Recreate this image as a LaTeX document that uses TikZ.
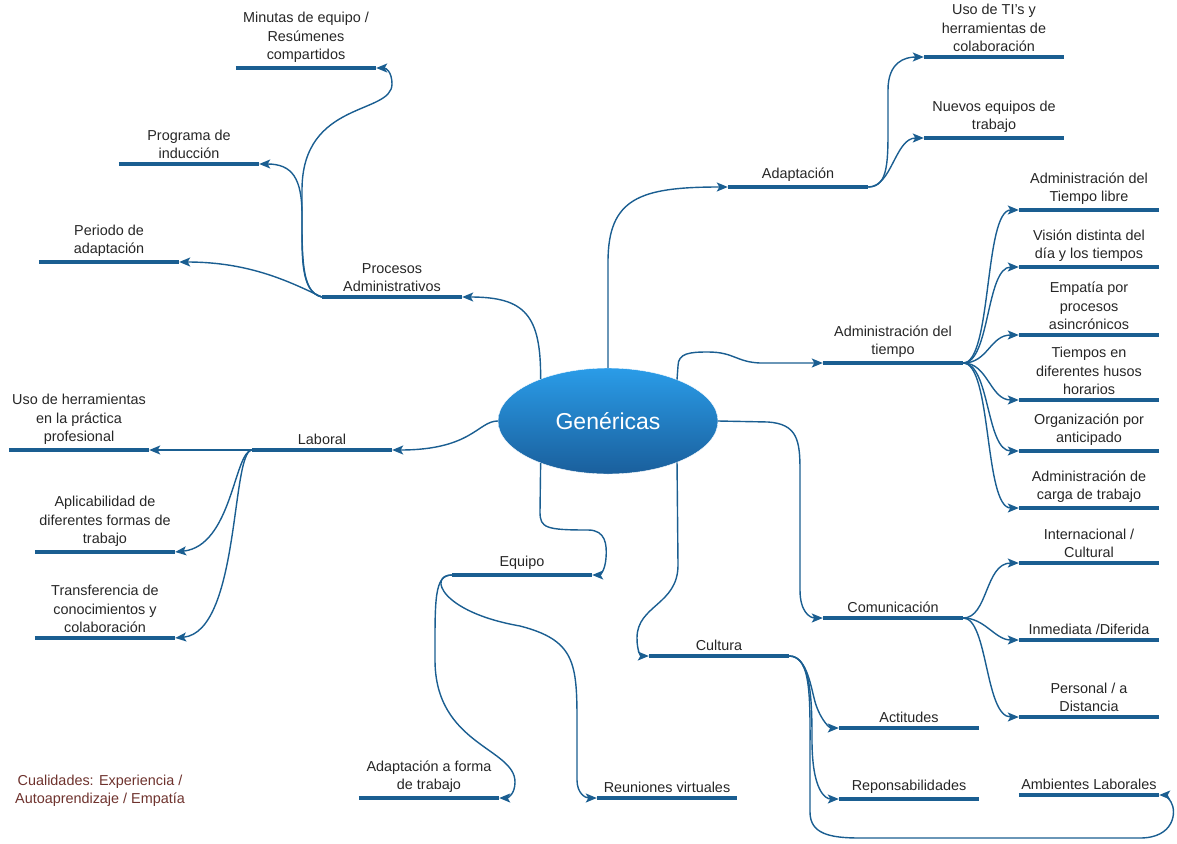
\documentclass[tikz,border=0pt]{standalone}
\usepackage{fontspec}
\setmainfont{Liberation Sans}
\usepackage{tikz}
\usetikzlibrary{shapes.geometric,arrows.meta,calc}
\usepackage{xcolor}
\definecolor{barblue}{HTML}{1A5E91}
\definecolor{txtgray}{HTML}{262626}
\definecolor{notered}{HTML}{6E322D}
\definecolor{elltop}{HTML}{2A9CE8}
\definecolor{ellbot}{HTML}{1A5F9C}
\newcommand{\lbl}{\fontsize{14.4}{18.5}\selectfont}
\tikzstyle{bar} = [line width=4.5pt, draw=barblue]
\tikzstyle{topic} = [align=center, minimum width=140pt, inner xsep=0pt, inner ysep=5pt, anchor=south, text=txtgray, font=\lbl, append after command={(\tikzlastnode.south west) edge[bar] (\tikzlastnode.south east)}]
\tikzstyle{core} = [ellipse, minimum width=220pt, minimum height=106pt, top color=elltop, bottom color=ellbot, draw=white, text=white, font=\fontsize{23}{26}\selectfont]
\tikzstyle{note} = [align=center, text=notered, font=\lbl]
\tikzstyle{arrow} = [line width=1.4pt, draw=barblue, -{Stealth[length=11pt, width=9pt, inset=2.5pt]}]

\begin{document}
\begin{tikzpicture}[x=1pt, y=-1pt]
    \useasboundingbox (0,0) rectangle (1177,843);
    % Nodes
    \node (gen) [core] at (608,421) {Genéricas};
    \node (proc) [topic] at (392,297) {Procesos\\Administrativos};
    \node (minutas) [topic] at (306,68) {Minutas de equipo /\\Resúmenes\\compartidos};
    \node (induc) [topic] at (189,164) {Programa de\\inducción};
    \node (periodo) [topic] at (109,262) {Periodo de\\adaptación};
    \node (laboral) [topic] at (322,450) {Laboral};
    \node (usoherr) [topic] at (79,450) {Uso de herramientas\\en la práctica\\profesional};
    \node (aplic) [topic] at (105,552) {Aplicabilidad de\\diferentes formas de\\trabajo};
    \node (transf) [topic] at (105,638) {Transferencia de\\conocimientos y\\colaboración};
    \node (equipo) [topic] at (522,575) {Equipo};
    \node (adforma) [topic] at (429,798) {Adaptación a forma\\de trabajo};
    \node (reuniones) [topic] at (667,798) {Reuniones virtuales};
    \node (cultura) [topic] at (719,656) {Cultura};
    \node (actitudes) [topic] at (909,728) {Actitudes};
    \node (respons) [topic] at (909,799) {Reponsabilidades};
    \node (ambientes) [topic] at (1089,795) {Ambientes Laborales};
    \node (comun) [topic] at (893,618) {Comunicación};
    \node (intl) [topic] at (1089,563) {Internacional /\\Cultural};
    \node (inmed) [topic] at (1089,640) {Inmediata /Diferida};
    \node (personal) [topic] at (1089,717) {Personal / a\\Distancia};
    \node (admt) [topic] at (893,363) {Administración del\\tiempo};
    \node (tlibre) [topic] at (1089,210) {Administración del\\Tiempo libre};
    \node (vision) [topic] at (1089,267) {Visión distinta del\\día y los tiempos};
    \node (empatia) [topic] at (1089,335) {Empatía por\\procesos\\asincrónicos};
    \node (husos) [topic] at (1089,400) {Tiempos en\\diferentes husos\\horarios};
    \node (organiz) [topic] at (1089,451) {Organización por\\anticipado};
    \node (carga) [topic] at (1089,508) {Administración de\\carga de trabajo};
    \node (adapt) [topic] at (798,187) {Adaptación};
    \node (usoti) [topic] at (994,57) {Uso de TI’s y\\herramientas de\\colaboración};
    \node (nuevos) [topic] at (994,138) {Nuevos equipos de\\trabajo};
    \node (cual) [note] at (100,791) {Cualidades: Experiencia /\\Autoaprendizaje / Empatía};

    % Arrows
    \draw [arrow] (gen.148) .. controls (541,315) and (525,297) .. (proc.south east);
    \draw [arrow] (proc.south west) .. controls (300,292) and (302,255) .. (302,190) .. controls (302,100) and (392,115) .. (392,84) .. controls (392,72) and (386,68) .. (minutas.south east);
    \draw [arrow] (proc.south west) .. controls (300,292) and (302,255) .. (302,215) .. controls (302,178) and (292,164) .. (induc.south east);
    \draw [arrow] (proc.south west) .. controls (290,282) and (250,262) .. (periodo.south east);
    \draw [arrow] (gen.west) .. controls (478,421) and (472,450) .. (laboral.south east);
    \draw [arrow] (laboral.south west) -- (usoherr.south east);
    \draw [arrow] (laboral.south west) .. controls (234,452) and (232,546) .. (aplic.south east);
    \draw [arrow] (laboral.south west) .. controls (231,452) and (240,632) .. (transf.south east);
    \draw [arrow] (gen.212) -- (540,512) .. controls (540,528) and (546,530) .. (588,530) .. controls (606,530) and (607,545) .. (606,558) .. controls (605,571) and (600,575) .. (equipo.south east);
    \draw [arrow] (equipo.south west) .. controls (434,575) and (435,600) .. (435,660) .. controls (435,745) and (515,748) .. (515,782) .. controls (515,794) and (508,798) .. (adforma.south east);
    \draw [arrow] (equipo.south west) .. controls (428,575) and (440,612) .. (520,626) .. controls (574,640) and (577,662) .. (577,720) -- (577,780) .. controls (577,793) and (585,798) .. (reuniones.south west);
    \draw [arrow] (gen.-31) -- (678,565) .. controls (678,605) and (637,605) .. (637,638) .. controls (637,652) and (641,656) .. (cultura.south west);
    \draw [arrow] (cultura.south east) .. controls (808,656) and (811,690) .. (816,705) .. controls (822,722) and (830,728) .. (actitudes.south west);
    \draw [arrow] (cultura.south east) .. controls (811,656) and (812,700) .. (812,740) .. controls (812,790) and (825,799) .. (respons.south west);
    \draw [arrow] (cultura.south east) .. controls (812,656) and (810,700) .. (810,760) -- (810,812) .. controls (810,834) and (830,838) .. (860,838) -- (1140,838) .. controls (1174,838) and (1177,812) .. (1171,802) .. controls (1167,796) and (1164,795) .. (ambientes.south east);
    \draw [arrow] (gen.east) -- (768,422) .. controls (797,424) and (800,440) .. (800,470) -- (800,590) .. controls (800,612) and (810,618) .. (comun.south west);
    \draw [arrow] (comun.south east) .. controls (988,618) and (985,563) .. (intl.south west);
    \draw [arrow] (comun.south east) .. controls (985,618) and (995,640) .. (inmed.south west);
    \draw [arrow] (comun.south east) .. controls (988,618) and (985,717) .. (personal.south west);
    \draw [arrow] (gen.31) -- (678,366) .. controls (678,353) and (690,352) .. (708,352) .. controls (734,352) and (736,362) .. (760,363) -- (admt.south west);
    \draw [arrow] (admt.south east) .. controls (992,363) and (984,210) .. (tlibre.south west);
    \draw [arrow] (admt.south east) .. controls (990,363) and (986,267) .. (vision.south west);
    \draw [arrow] (admt.south east) .. controls (988,363) and (990,335) .. (empatia.south west);
    \draw [arrow] (admt.south east) .. controls (988,363) and (990,400) .. (husos.south west);
    \draw [arrow] (admt.south east) .. controls (990,363) and (986,451) .. (organiz.south west);
    \draw [arrow] (admt.south east) .. controls (992,363) and (984,508) .. (carga.south west);
    \draw [arrow] (gen.north) -- (608,262) .. controls (608,198) and (640,187) .. (adapt.south west);
    \draw [arrow] (adapt.south east) .. controls (889,187) and (888,160) .. (888,120) -- (888,90) .. controls (888,62) and (905,57) .. (usoti.south west);
    \draw [arrow] (adapt.south east) .. controls (892,187) and (895,138) .. (nuevos.south west);
\end{tikzpicture}
\end{document}
